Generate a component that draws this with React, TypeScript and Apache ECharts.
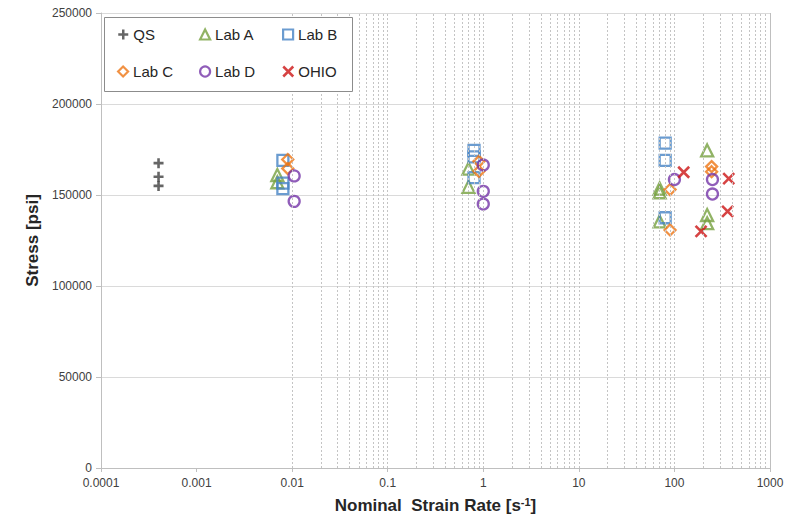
import React, { useEffect, useRef } from "react";
import * as echarts from "echarts";

// ---- data (x = nominal strain rate [1/s], y = stress [psi]) ----
const qsX = [0.0004, 0.0004, 0.0004];
const qsY = [167500, 160000, 155000];

const labAX = [0.007, 0.007, 0.7, 0.7, 70, 70, 70, 220, 220, 220];
const labAY = [161000, 157000, 164500, 154500, 153500, 151500, 135500, 174500, 139000, 134500];

const labBX = [0.008, 0.008, 0.008, 0.8, 0.8, 0.8, 80, 80, 80];
const labBY = [169000, 156500, 153500, 174500, 171000, 159500, 178500, 169000, 137500];

const labCX = [0.009, 0.009, 0.9, 0.9, 90, 90, 245, 245];
const labCY = [169500, 164500, 168500, 163000, 153000, 130800, 165600, 162800];

const labDX = [0.0105, 0.0105, 1.0, 1.0, 1.0, 100, 250, 250];
const labDY = [160500, 146500, 166500, 152000, 145000, 158500, 158500, 150500];

const ohioX = [125, 190, 370, 360];
const ohioY = [162500, 130000, 159000, 141000];

// tick labels / axis setup
const xTickLabels = ["0.0001", "0.001", "0.01", "0.1", "1", "10", "100", "1000"];
const yTickLabels = ["0", "50000", "100000", "150000", "200000", "250000"];

// vertical gridline positions on the log axis (1..9 x 10^k)
const gridMultipliers = [1, 2, 3, 4, 5, 6, 7, 8, 9];
const gridDecades = [0.0001, 0.001, 0.01, 0.1, 1, 10, 100];

const FONT = "'Liberation Sans', Arial, sans-serif";
const TXT = "#404040";

const zip = (xs: number[], ys: number[]) => xs.map((x, i) => [x, ys[i]]);

const PLUS = "path://M0,5 L10,5 M5,0 L5,10";
const CROSS = "path://M0,0 L10,10 M10,0 L0,10";

export default function App() {
  const ref = useRef<HTMLDivElement>(null);
  useEffect(() => {
    if (!ref.current) return;
    const chart = echarts.init(ref.current, undefined, { renderer: "svg" });

    const gridVals: number[] = [];
    gridDecades.forEach((d) =>
      gridMultipliers.forEach((m) => {
        const v = Number((d * m).toPrecision(3));
        if (v > 0.0001) gridVals.push(v);
      })
    );

    const mk = (
      name: string,
      xs: number[],
      ys: number[],
      symbol: string,
      color: string,
      size: number,
      bw: number
    ) => ({
      name,
      type: "scatter",
      data: zip(xs, ys),
      symbol,
      symbolSize: size,
      itemStyle: { color: "rgba(0,0,0,0)", borderColor: color, borderWidth: bw },
      z: 3,
    });

    const series: any[] = [
      mk("QS", qsX, qsY, PLUS, "#404040", 10, 2.6),
      mk("Lab A", labAX, labAY, "triangle", "#76A03E", 12, 2.3),
      mk("Lab B", labBX, labBY, "rect", "#4683C4", 11, 2.3),
      mk("Lab C", labCX, labCY, "diamond", "#EE7614", 11, 2.3),
      mk("Lab D", labDX, labDY, "circle", "#7434A8", 11, 2.3),
      mk("OHIO", ohioX, ohioY, CROSS, "#CC1414", 11, 2.6),
    ];
    series[0].markLine = {
      silent: true,
      symbol: "none",
      animation: false,
      label: { show: false },
      lineStyle: { color: "#c4c4c4", type: [2, 2], width: 1 },
      data: [
        ...gridVals.map((v) => ({ xAxis: v })),
        { xAxis: 1000, lineStyle: { color: "#bfbfbf", type: "solid", width: 1 } },
      ],
    };

    const legendCols = [117, 199, 282];
    const legendRows = [27, 64];
    const legendDefs = [
      { name: "QS", icon: PLUS, color: "#404040", bw: 2.5 },
      { name: "Lab A", icon: "triangle", color: "#76A03E", bw: 2.2 },
      { name: "Lab B", icon: "rect", color: "#4683C4", bw: 2.2 },
      { name: "Lab C", icon: "diamond", color: "#EE7614", bw: 2.2 },
      { name: "Lab D", icon: "circle", color: "#7434A8", bw: 2.2 },
      { name: "OHIO", icon: CROSS, color: "#CC1414", bw: 2.5 },
    ];
    const legends = legendDefs.map((d, i) => ({
      show: true,
      left: legendCols[i % 3],
      top: legendRows[Math.floor(i / 3)],
      padding: 0,
      itemWidth: 10,
      itemHeight: 10,
      selectedMode: false,
      z: 20,
      textStyle: { fontFamily: FONT, fontSize: 15, color: "#262626" },
      data: [
        {
          name: d.name,
          icon: d.icon,
          itemStyle: { color: "rgba(0,0,0,0)", borderColor: d.color, borderWidth: d.bw },
        },
      ],
    }));

    chart.setOption({
      animation: false,
      backgroundColor: "#ffffff",
      grid: { left: 101, right: 34, top: 13, bottom: 53, containLabel: false },
      legend: legends,
      graphic: [
        {
          type: "rect",
          z: 10,
          shape: { x: 104.5, y: 17.5, width: 248, height: 74 },
          style: { fill: "#ffffff", stroke: "#8c8c8c", lineWidth: 1 },
        },
      ],
      xAxis: {
        type: "log",
        logBase: 10,
        min: 0.0001,
        max: 1000,
        splitNumber: 7,
        axisLine: { show: true, lineStyle: { color: "#bfbfbf", width: 1 } },
        axisTick: { show: true, length: 4, lineStyle: { color: "#bfbfbf" } },
        splitLine: { show: false },
        axisLabel: {
          fontFamily: FONT,
          fontSize: 12,
          color: TXT,
          margin: 9,
          formatter: (v: number) => {
            const idx = Math.round(Math.log10(v)) + 4;
            return xTickLabels[idx] ?? String(v);
          },
        },
        name: "{b|Nominal  Strain Rate [s}{s|-1}{b|]}",
        nameLocation: "middle",
        nameGap: 28,
        nameTextStyle: {
          rich: {
            b: { fontFamily: FONT, fontSize: 17, fontWeight: "bold", color: "#262626" },
            s: {
              fontFamily: FONT,
              fontSize: 11,
              fontWeight: "bold",
              color: "#262626",
              verticalAlign: "top",
              padding: [0, 0, 7, 0],
            },
          },
        },
      },
      yAxis: {
        type: "value",
        min: 0,
        max: 250000,
        interval: 50000,
        axisLine: { show: true, lineStyle: { color: "#bfbfbf", width: 1 } },
        axisTick: { show: true, length: 5, lineStyle: { color: "#bfbfbf" } },
        splitLine: { show: true, lineStyle: { color: "#dadada", width: 1 } },
        axisLabel: {
          fontFamily: FONT,
          fontSize: 12,
          color: TXT,
          margin: 9,
          formatter: (v: number) => yTickLabels[Math.round(v / 50000)] ?? String(v),
        },
        name: "Stress [psi]",
        nameLocation: "middle",
        nameGap: 58,
        nameRotate: 90,
        nameTextStyle: { fontFamily: FONT, fontSize: 17, fontWeight: "bold", color: "#262626" },
      },
      series,
    });
    return () => chart.dispose();
  }, []);
  return (
    <div
      ref={ref}
      style={{ position: "fixed", left: 0, top: 0, width: 804, height: 521, background: "#fff" }}
    />
  );
}
